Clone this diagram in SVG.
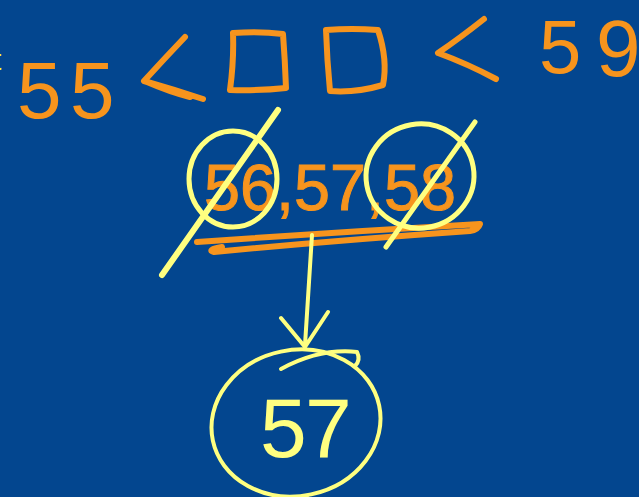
<svg xmlns="http://www.w3.org/2000/svg" width="639" height="497" viewBox="0 0 639 497">
<style>
.o{fill:none;stroke:#f7941d;stroke-width:6;stroke-linecap:round;stroke-linejoin:round}
.y{fill:none;stroke:#ffff80;stroke-width:4;stroke-linecap:round;stroke-linejoin:round}
.to{fill:#f7941d;font-family:"Liberation Sans",sans-serif}
.ty{fill:#ffff80;font-family:"Liberation Sans",sans-serif}
</style>
<rect width="639" height="497" fill="#03468f"/>
<text x="-7" y="70" font-family="Liberation Sans,sans-serif" font-size="30" fill="#ffff00">t</text>
<g id="top">
<text class="to" font-size="80" y="118"><tspan x="17">5</tspan><tspan x="70">5</tspan></text>
<path class="o" d="M185,37 Q165,58 144,81 Q175,90 203,99 M147,82 Q170,92 190,97"/>
<path class="o" d="M233,33 Q260,31 283,34 Q285,60 286,88 Q258,91 230,90 Q234,60 233,33"/>
<path class="o" d="M326,30 Q352,28 378,30 Q388,60 383,85 Q356,93 330,91 Q327,60 326,30"/>
<path class="o" d="M484,19 Q460,38 438,53 Q468,64 496,79"/>
<text class="to" font-size="76" y="73"><tspan x="539">5</tspan></text>
<text class="to" font-size="80" y="76"><tspan x="596">9</tspan></text>
</g>
<g id="candidates">
<text class="to" font-size="64" x="204" y="210" textLength="252" lengthAdjust="spacingAndGlyphs" style="stroke:#f7941d;stroke-width:1">56,57,58</text>
<path class="o" d="M197,242 Q340,232 480,224 Q478,230 470,231 Q340,240 214,252 Q206,250 222,247"/>
<ellipse class="y" cx="233" cy="179" rx="44" ry="48" style="stroke-width:5"/>
<ellipse class="y" cx="420" cy="176" rx="54" ry="52" transform="rotate(-10 420 176)" style="stroke-width:5"/>
<path class="y" style="stroke-width:6" d="M278,110 L162,275"/>
<path class="y" style="stroke-width:5" d="M475,122 L386,247"/>
</g>
<g id="connectors">
<path class="y" d="M312,235 L305,345 M281,318 L305,347 L328,312"/>
</g>
<g id="answer">
<ellipse class="y" cx="296" cy="423" rx="85" ry="73" transform="rotate(-12 296 423)"/>
<path class="y" d="M281,369 Q320,348 357,352 Q361,360 355,366"/>
<text class="ty" font-size="84" y="457"><tspan x="260">5</tspan><tspan x="305">7</tspan></text>
</g>
</svg>
